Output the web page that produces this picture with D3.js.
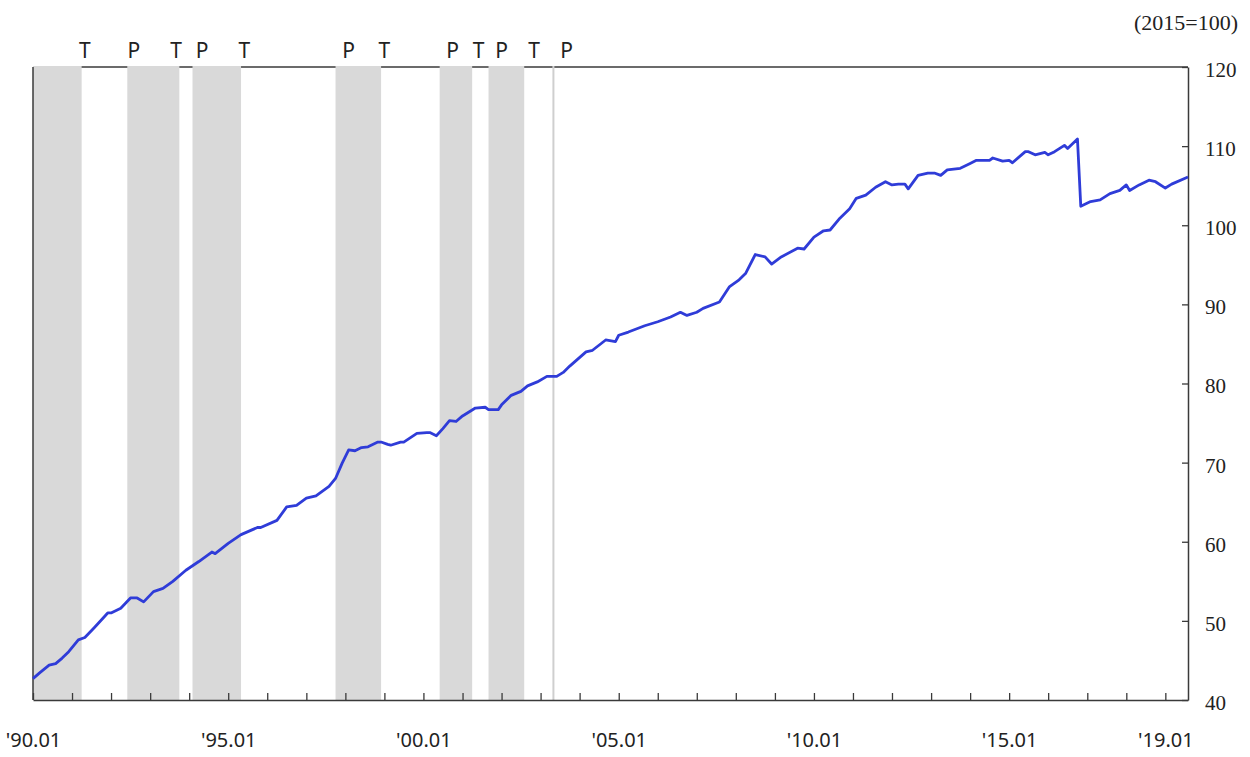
<!DOCTYPE html>
<html>
<head>
<meta charset="utf-8">
<script src="https://cdn.jsdelivr.net/npm/d3@7"></script>
<style>
  body { margin: 0; background: #fff; }
</style>
</head>
<body>
<div id="chart"></div>
<script>
// monthly index (2015=100)
const months = [
  "1990.01","1990.03","1990.06","1990.08","1990.10","1990.12","1991.03","1991.05","1991.08","1991.12",
  "1992.01","1992.04","1992.07","1992.09","1992.11","1993.02","1993.05","1993.08","1993.12","1994.04",
  "1994.08","1994.09","1995.01","1995.05","1995.10","1995.11","1996.04","1996.07","1996.10","1997.01",
  "1997.04","1997.08","1997.10","1997.12","1998.02","1998.04","1998.06","1998.08","1998.11","1998.12",
  "1999.02","1999.03","1999.06","1999.07","1999.11","2000.02","2000.03","2000.05","2000.07","2000.09",
  "2000.11","2001.01","2001.05","2001.08","2001.09","2001.12","2002.01","2002.04","2002.07","2002.09",
  "2002.12","2003.03","2003.06","2003.08","2003.10","2004.03","2004.05","2004.09","2004.12","2005.01",
  "2005.04","2005.09","2006.01","2006.05","2006.08","2006.10","2007.01","2007.03","2007.08","2007.11",
  "2008.02","2008.04","2008.07","2008.10","2008.12","2009.03","2009.08","2009.10","2010.01","2010.04",
  "2010.06","2010.09","2010.12","2011.02","2011.05","2011.08","2011.11","2012.01","2012.03","2012.05",
  "2012.06","2012.09","2012.12","2013.02","2013.04","2013.06","2013.10","2014.01","2014.03","2014.07",
  "2014.08","2014.11","2015.01","2015.02","2015.06","2015.07","2015.09","2015.12","2016.01","2016.03",
  "2016.06","2016.07","2016.10","2016.11","2017.02","2017.05","2017.08","2017.11","2018.01","2018.02",
  "2018.05","2018.08","2018.10","2019.01","2019.03","2019.08"
];
const values = [
  42.7, 43.4, 44.4, 44.6, 45.3, 46.1, 47.6, 47.9, 49.2, 51.0,
  51.0, 51.6, 52.9, 52.9, 52.4, 53.7, 54.1, 55.0, 56.4, 57.5,
  58.7, 58.5, 59.8, 60.9, 61.8, 61.8, 62.7, 64.4, 64.6, 65.5,
  65.8, 67.0, 68.0, 69.9, 71.6, 71.5, 71.9, 72.0, 72.6, 72.6,
  72.3, 72.2, 72.6, 72.6, 73.7, 73.8, 73.8, 73.4, 74.3, 75.3,
  75.2, 75.9, 76.9, 77.0, 76.7, 76.7, 77.3, 78.5, 79.0, 79.7,
  80.2, 80.9, 80.9, 81.4, 82.2, 84.0, 84.2, 85.5, 85.3, 86.1,
  86.5, 87.3, 87.8, 88.4, 89.0, 88.6, 89.0, 89.5, 90.3, 92.2,
  93.1, 93.9, 96.3, 96.0, 95.1, 96.0, 97.1, 97.0, 98.5, 99.3,
  99.4, 100.9, 102.1, 103.4, 103.8, 104.8, 105.5, 105.1, 105.2, 105.2,
  104.6, 106.3, 106.6, 106.6, 106.3, 107.0, 107.2, 107.8, 108.2, 108.2,
  108.5, 108.1, 108.2, 107.9, 109.3, 109.3, 108.9, 109.2, 108.9, 109.3,
  110.1, 109.7, 110.9, 102.4, 103.0, 103.2, 104.0, 104.4, 105.1, 104.4,
  105.1, 105.7, 105.5, 104.7, 105.2, 106.1
];

// shaded contraction periods (peak -> trough)
const bandStarts = ["1990.01", "1992.06", "1994.02", "1997.10", "2000.06", "2001.09"];
const bandEnds   = ["1991.04", "1993.10", "1995.05", "1998.12", "2001.04", "2002.08"];
const markerLine = "2003.05";

// turning point letters across the top
const turnTypes = ["T", "P", "T", "P", "T", "P", "T", "P", "T", "P", "T", "P"];
const turnDates = ["1991.05", "1992.08", "1993.09", "1994.05", "1995.06", "1998.02",
                   "1999.01", "2000.10", "2001.06", "2002.01", "2002.11", "2003.09"];

const yTicks = [40, 50, 60, 70, 80, 90, 100, 110, 120];
const labelYears = ["1990.01", "1995.01", "2000.01", "2005.01", "2010.01", "2015.01", "2019.01"];

const parse = d3.timeParse("%Y.%m");
const data = months.map((m, i) => ({ date: parse(m), value: values[i] }));

const svg = d3.select("#chart").append("svg")
    .attr("width", 1250).attr("height", 757);

const x = d3.scaleTime()
    .domain([parse("1990.01"), parse("2019.08")])
    .range([33, 1188]);
const y = d3.scaleLinear().domain([40, 120]).range([700, 67]);

const frameColor = "#3a3a3a";

// top border first so the bands cover it
svg.append("line")
    .attr("x1", x.range()[0]).attr("x2", x.range()[1])
    .attr("y1", y(120)).attr("y2", y(120))
    .attr("stroke", frameColor).attr("stroke-width", 1.5);

svg.append("g").selectAll("rect")
    .data(bandStarts)
    .join("rect")
    .attr("x", d => x(parse(d)))
    .attr("width", (d, i) => x(parse(bandEnds[i])) - x(parse(d)))
    .attr("y", y(120) - 1)
    .attr("height", y(40) - y(120) + 1)
    .attr("fill", "#d9d9d9");

svg.append("line")
    .attr("x1", x(parse(markerLine))).attr("x2", x(parse(markerLine)))
    .attr("y1", y(120) - 1).attr("y2", y(40))
    .attr("stroke", "#cfcfcf").attr("stroke-width", 2);

// left border
svg.append("line")
    .attr("x1", x.range()[0]).attr("x2", x.range()[0])
    .attr("y1", y(120)).attr("y2", y(40))
    .attr("stroke", frameColor).attr("stroke-width", 1.5);

// bottom axis: yearly ticks pointing up
const xAxis = svg.append("g")
    .attr("transform", `translate(0,${y(40)})`)
    .call(d3.axisBottom(x)
        .ticks(d3.timeYear.every(1))
        .tickSizeInner(-7).tickSizeOuter(0)
        .tickFormat(""));
xAxis.select(".domain").attr("stroke", frameColor).attr("stroke-width", 1.5);
xAxis.selectAll(".tick line").attr("stroke", frameColor).attr("stroke-width", 1.3);

const fmt = d3.timeFormat("%y.%m");
const xLabels = svg.append("g")
    .attr("transform", `translate(0,${y(40)})`)
    .call(d3.axisBottom(x)
        .tickValues(labelYears.map(parse))
        .tickSize(0).tickPadding(33)
        .tickFormat(d => "'" + fmt(d)));
xLabels.select(".domain").remove();
xLabels.selectAll("text")
    .attr("font-family", "Noto Sans, sans-serif")
    .attr("font-size", 20)
    .attr("fill", "#222");

// right axis
const yAxis = svg.append("g")
    .attr("transform", `translate(${x.range()[1]},0)`)
    .call(d3.axisRight(y)
        .tickValues(yTicks)
        .tickSizeInner(-6).tickSizeOuter(0)
        .tickPadding(17));
yAxis.select(".domain").attr("stroke", frameColor).attr("stroke-width", 1.5);
yAxis.selectAll(".tick line").attr("stroke", frameColor).attr("stroke-width", 1.3);
yAxis.selectAll("text")
    .attr("font-family", "Liberation Serif, serif")
    .attr("font-size", 21)
    .attr("dy", "0.45em")
    .attr("fill", "#222");

// the series
svg.append("path")
    .datum(data)
    .attr("fill", "none")
    .attr("stroke", "#2f3cd8")
    .attr("stroke-width", 2.8)
    .attr("stroke-linejoin", "round")
    .attr("d", d3.line().x(d => x(d.date)).y(d => y(d.value)));

// turning point letters
svg.append("g").selectAll("text")
    .data(turnTypes)
    .join("text")
    .attr("x", (d, i) => x(parse(turnDates[i])))
    .attr("y", 58)
    .attr("text-anchor", "middle")
    .attr("font-family", "Noto Sans, sans-serif")
    .attr("font-size", 21)
    .attr("fill", "#222")
    .text(d => d);

svg.append("text")
    .attr("x", 1238).attr("y", 30)
    .attr("text-anchor", "end")
    .attr("font-family", "Liberation Serif, serif")
    .attr("font-size", 22)
    .attr("fill", "#222")
    .text("(2015=100)");
</script>
</body>
</html>
